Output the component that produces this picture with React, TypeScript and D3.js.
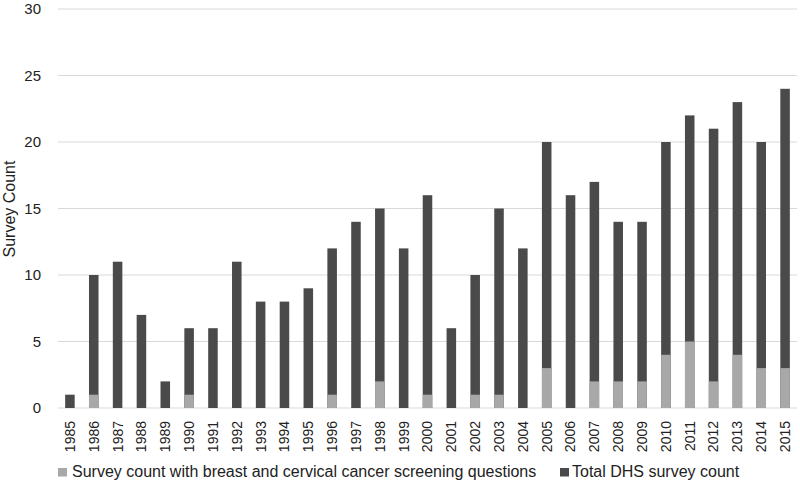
import React from "react";
import * as d3 from "d3";

const years = ["1985","1986","1987","1988","1989","1990","1991","1992","1993","1994","1995","1996","1997","1998","1999","2000","2001","2002","2003","2004","2005","2006","2007","2008","2009","2010","2011","2012","2013","2014","2015"];
const totalCounts = [1,10,11,7,2,6,6,11,8,8,9,12,14,15,12,16,6,10,15,12,20,16,17,14,14,20,22,21,23,20,24];
const screeningCounts = [0,1,0,0,0,1,0,0,0,0,0,1,0,2,0,1,0,1,1,0,3,0,2,2,2,4,5,2,4,3,3];
const yTicks = [0,5,10,15,20,25,30];
const seriesNames = ["Survey count with breast and cervical cancer screening questions", "Total DHS survey count"];

const W = 800, H = 481;
const left = 58, right = 797, top = 9, bottom = 408;
const font = "'Liberation Sans', Arial, Helvetica, sans-serif";
const darkColor = "#4a4a4a";
const lightColor = "#a8a8a8";

export default function App() {
  const x = d3.scaleBand<string>().domain(years).range([left, right]).paddingInner(0.6).paddingOuter(0.3);
  const y = d3.scaleLinear().domain([0, 30]).range([bottom, top]);
  return (
    <svg width={W} height={H} style={{ position: "absolute", left: 0, top: 0 }} fontFamily={font}>
      <rect width={W} height={H} fill="#fff" />
      {yTicks.map(t => (
        <g key={t}>
          <line x1={left} x2={right} y1={y(t)} y2={y(t)} stroke="#d9d9d9" strokeWidth={1.2} />
          <text x={41} y={y(t)} dy="0.35em" textAnchor="end" fontSize={15} fill="#222">{t}</text>
        </g>
      ))}
      <text transform={`translate(15,209) rotate(-90)`} textAnchor="middle" fontSize={16} fill="#222">Survey Count</text>
      {years.map((yr, i) => (
        <g key={yr}>
          <rect x={x(yr)} width={x.bandwidth()} y={y(totalCounts[i])} height={y(0) - y(totalCounts[i])} fill={darkColor} />
          {screeningCounts[i] > 0 && (
            <rect x={x(yr)} width={x.bandwidth()} y={y(screeningCounts[i])} height={y(0) - y(screeningCounts[i])} fill={lightColor} />
          )}
          <text transform={`translate(${(x(yr) as number) + x.bandwidth() / 2},${bottom + 13}) rotate(-90)`} textAnchor="end" dy="0.35em" fontSize={14} fill="#222">{yr}</text>
        </g>
      ))}
      <g>
        <rect x={58} y={468} width={9} height={8.5} fill={lightColor} />
        <text x={72} y={477} fontSize={16} fill="#222">{seriesNames[0]}</text>
        <rect x={560} y={468} width={9} height={8.5} fill={darkColor} />
        <text x={572} y={477} fontSize={16} fill="#222">{seriesNames[1]}</text>
      </g>
    </svg>
  );
}
